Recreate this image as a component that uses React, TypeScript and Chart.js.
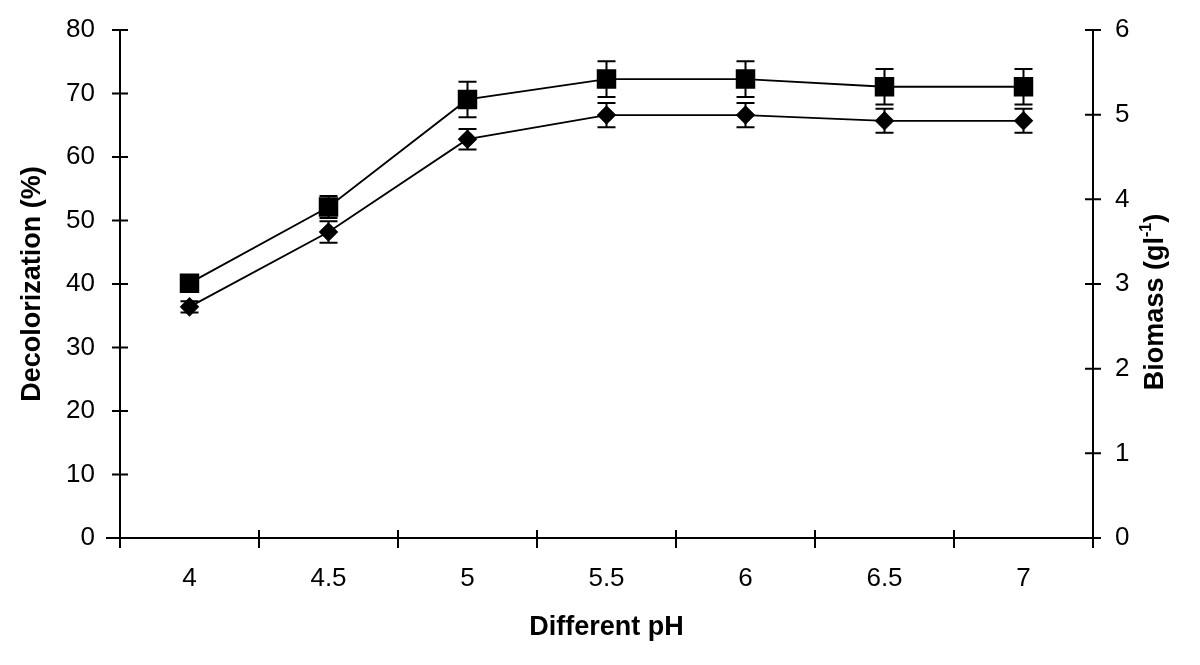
import React, { useEffect, useRef } from "react";
import { Chart, registerables } from "chart.js";

Chart.register(...registerables);

const phLabels = ["4", "4.5", "5", "5.5", "6", "6.5", "7"];
const decolorization = [36.4, 48.2, 62.8, 66.6, 66.6, 65.7, 65.7];
const decolorizationErr = [0.9, 1.7, 1.6, 1.9, 1.9, 1.9, 1.9];
const biomass = [3.01, 3.91, 5.18, 5.42, 5.42, 5.33, 5.33];
const biomassErr = [0.07, 0.13, 0.21, 0.21, 0.21, 0.21, 0.21];
const leftTicks = [0, 10, 20, 30, 40, 50, 60, 70, 80];
const rightTicks = [0, 1, 2, 3, 4, 5, 6];

const errorBarPlugin = {
  id: "errorBars",
  beforeDatasetsDraw(chart: any) {
    const ctx = chart.ctx;
    chart.data.datasets.forEach((ds: any, i: number) => {
      const meta = chart.getDatasetMeta(i);
      const scale = chart.scales[ds.yAxisID];
      const errs: number[] = ds.errors || [];
      meta.data.forEach((pt: any, j: number) => {
        const v = ds.data[j];
        const e = errs[j] || 0;
        const yt = scale.getPixelForValue(v + e);
        const yb = scale.getPixelForValue(v - e);
        const x = pt.x;
        ctx.save();
        ctx.strokeStyle = "#000";
        ctx.lineWidth = 2;
        ctx.beginPath();
        ctx.moveTo(x, yt);
        ctx.lineTo(x, yb);
        ctx.moveTo(x - 9, yt);
        ctx.lineTo(x + 9, yt);
        ctx.moveTo(x - 9, yb);
        ctx.lineTo(x + 9, yb);
        ctx.stroke();
        ctx.restore();
      });
    });
  },
};

const axisDecorPlugin = {
  id: "axisDecor",
  afterDraw(chart: any) {
    const ctx = chart.ctx;
    const { left, right, bottom, top } = chart.chartArea;
    const xs = chart.scales.x;
    const yl = chart.scales.y;
    const yr = chart.scales.y1;
    ctx.save();
    ctx.strokeStyle = "#000";
    ctx.lineWidth = 2;
    ctx.beginPath();
    leftTicks.forEach((v) => {
      const y = yl.getPixelForValue(v);
      ctx.moveTo(left - 8, y);
      ctx.lineTo(left + 8, y);
    });
    rightTicks.forEach((v) => {
      const y = yr.getPixelForValue(v);
      ctx.moveTo(right - 8, y);
      ctx.lineTo(right + 8, y);
    });
    for (let i = 0; i <= phLabels.length; i++) {
      const x = xs.getPixelForValue(i - 0.5);
      ctx.moveTo(x, bottom - 8);
      ctx.lineTo(x, bottom + 10);
    }
    ctx.moveTo(left - 14, bottom);
    ctx.lineTo(left, bottom);
    ctx.stroke();

    // right axis title, reading bottom to top
    const cx = 1156;
    const cy = (top + bottom) / 2 + 18;
    ctx.translate(cx, cy);
    ctx.rotate(-Math.PI / 2);
    ctx.fillStyle = "#000";
    ctx.textBaseline = "middle";
    const mainFont = "bold 27px 'Liberation Sans', Arial, sans-serif";
    const supFont = "bold 16px 'Liberation Sans', Arial, sans-serif";
    const part1 = "Biomass (gl";
    const sup = "-1";
    const part3 = ")";
    ctx.font = mainFont;
    const w1 = ctx.measureText(part1).width;
    const w3 = ctx.measureText(part3).width;
    ctx.font = supFont;
    const w2 = ctx.measureText(sup).width;
    const total = w1 + w2 + w3;
    let x0 = -total / 2;
    ctx.textAlign = "left";
    ctx.font = mainFont;
    ctx.fillText(part1, x0, 0);
    x0 += w1;
    ctx.font = supFont;
    ctx.fillText(sup, x0, -9);
    x0 += w2;
    ctx.font = mainFont;
    ctx.fillText(part3, x0, 0);
    ctx.restore();
  },
};

export default function App() {
  const canvasRef = useRef<HTMLCanvasElement | null>(null);

  useEffect(() => {
    if (!canvasRef.current) return;
    const tickFont = { family: "'Liberation Sans', Arial, sans-serif", size: 26 };
    const chart = new Chart(canvasRef.current, {
      type: "line",
      data: {
        labels: phLabels,
        datasets: [
          {
            label: "Biomass",
            data: biomass,
            errors: biomassErr,
            yAxisID: "y1",
            borderColor: "#000",
            backgroundColor: "#000",
            borderWidth: 1.8,
            pointStyle: "rect",
            pointRadius: 12.5,
            pointHoverRadius: 12.5,
            pointBackgroundColor: "#000",
            pointBorderColor: "#000",
            tension: 0,
          } as any,
          {
            label: "Decolorization",
            data: decolorization,
            errors: decolorizationErr,
            yAxisID: "y",
            borderColor: "#000",
            backgroundColor: "#000",
            borderWidth: 1.8,
            pointStyle: "rectRot",
            pointRadius: 8.5,
            pointHoverRadius: 8.5,
            pointBackgroundColor: "#000",
            pointBorderColor: "#000",
            tension: 0,
          } as any,
        ],
      },
      options: {
        animation: false,
        responsive: true,
        maintainAspectRatio: false,
        layout: { autoPadding: false, padding: { top: 30, left: 0, right: 0, bottom: 0 } },
        plugins: {
          legend: { display: false },
          tooltip: { enabled: false },
        },
        scales: {
          x: {
            type: "category",
            offset: true,
            grid: { display: true, drawOnChartArea: false, drawTicks: false, offset: true },
            border: { display: true, color: "#000", width: 2 },
            ticks: { color: "#000", font: tickFont, padding: 25, maxRotation: 0 },
            title: {
              display: true,
              text: "Different pH",
              color: "#000",
              font: { family: "'Liberation Sans', Arial, sans-serif", size: 27, weight: "bold" },
              padding: { top: 0, bottom: 21 },
            },
            afterFit: (s: any) => {
              s.height = 127;
              s.paddingLeft = 0;
              s.paddingRight = 0;
            },
          },
          y: {
            position: "left",
            min: 0,
            max: 80,
            grid: { display: true, drawOnChartArea: false, drawTicks: false },
            border: { display: true, color: "#000", width: 2 },
            ticks: { stepSize: 10, color: "#000", font: tickFont, padding: 25 },
            title: {
              display: true,
              text: "Decolorization (%)",
              color: "#000",
              font: { family: "'Liberation Sans', Arial, sans-serif", size: 27, weight: "bold" },
              padding: { top: 16, bottom: 0 },
            },
            afterFit: (s: any) => {
              s.width = 120;
              s.paddingTop = 0;
              s.paddingBottom = 0;
            },
          },
          y1: {
            position: "right",
            min: 0,
            max: 6,
            grid: { display: true, drawOnChartArea: false, drawTicks: false },
            border: { display: true, color: "#000", width: 2 },
            ticks: { stepSize: 1, color: "#000", font: tickFont, padding: 22 },
            afterFit: (s: any) => {
              s.width = 107;
              s.paddingTop = 0;
              s.paddingBottom = 0;
            },
          },
        },
      },
      plugins: [errorBarPlugin, axisDecorPlugin],
    });
    return () => chart.destroy();
  }, []);

  return (
    <div
      style={{
        position: "fixed",
        left: 0,
        top: 0,
        width: 1200,
        height: 665,
        background: "#fff",
      }}
    >
      <canvas ref={canvasRef} />
    </div>
  );
}
